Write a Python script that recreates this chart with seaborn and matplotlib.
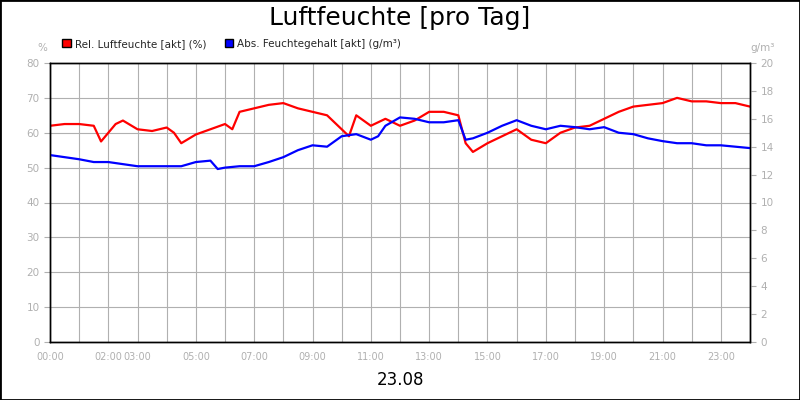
import matplotlib
matplotlib.use('Agg')
import matplotlib.pyplot as plt
import matplotlib.patches as mpatches
import seaborn as sns
import numpy as np

# hours of day
rel_hours = [0, 0.5, 1, 1.5, 1.75, 2, 2.25, 2.5, 3, 3.5, 4, 4.25, 4.5, 5, 5.5, 6, 6.25, 6.5, 7, 7.5,
             8, 8.5, 9, 9.5, 10, 10.25, 10.5, 11, 11.5, 12, 12.5, 13, 13.5, 14, 14.25, 14.5, 15, 15.5,
             16, 16.5, 17, 17.5, 18, 18.5, 19, 19.5, 20, 20.5, 21, 21.5, 22, 22.5, 23, 23.5, 24]
rel_hum = [62, 62.5, 62.5, 62, 57.5, 60, 62.5, 63.5, 61, 60.5, 61.5, 60, 57, 59.5, 61, 62.5, 61, 66, 67, 68,
           68.5, 67, 66, 65, 61, 59, 65, 62, 64, 62, 63.5, 66, 66, 65, 57, 54.5, 57, 59,
           61, 58, 57, 60, 61.5, 62, 64, 66, 67.5, 68, 68.5, 70, 69, 69, 68.5, 68.5, 67.5]

abs_hours = [0, 1, 1.5, 2, 2.5, 3, 4, 4.5, 5, 5.5, 5.75, 6, 6.5, 7, 7.5, 8, 8.5, 9, 9.5, 10, 10.5, 11,
             11.25, 11.5, 12, 12.5, 13, 13.5, 14, 14.25, 14.5, 15, 15.5, 16, 16.5, 17, 17.5, 18, 18.5,
             19, 19.5, 20, 20.5, 21, 21.5, 22, 22.5, 23, 23.5, 24]
abs_hum = [13.4, 13.1, 12.9, 12.9, 12.75, 12.6, 12.6, 12.6, 12.9, 13.0, 12.4, 12.5, 12.6, 12.6, 12.9,
           13.25, 13.75, 14.1, 14.0, 14.75, 14.9, 14.5, 14.75, 15.5, 16.1, 16.0, 15.75, 15.75, 15.9,
           14.5, 14.6, 15.0, 15.5, 15.9, 15.5, 15.25, 15.5, 15.4, 15.25, 15.4, 15.0, 14.9, 14.6, 14.4,
           14.25, 14.25, 14.1, 14.1, 14.0, 13.9]

tick_hours = [0, 2, 3, 5, 7, 9, 11, 13, 15, 17, 19, 21, 23]
tick_labels = ['00:00', '02:00', '03:00', '05:00', '07:00', '09:00', '11:00',
               '13:00', '15:00', '17:00', '19:00', '21:00', '23:00']

sns.set_style('white')
plt.rcParams['font.family'] = ['DejaVu Sans']
grey = '#b0b0b0'

fig = plt.figure(figsize=(8, 4), dpi=100)
ax = fig.add_axes([50 / 800, 58 / 400, 700 / 800, 279 / 400])
ax2 = ax.twinx()

sns.lineplot(x=rel_hours, y=rel_hum, ax=ax, color='#ff0000', lw=1.6)
sns.lineplot(x=abs_hours, y=abs_hum, ax=ax2, color='#0000ff', lw=1.6)

ax.set_xlim(0, 24)
ax.set_ylim(0, 80)
ax2.set_ylim(0, 20)
ax.set_yticks(range(0, 81, 10))
ax2.set_yticks(range(0, 21, 2))
lab_map = dict(zip(tick_hours, tick_labels))
ax.set_xticks(range(0, 25))
ax.set_xticklabels([lab_map.get(h, '') for h in range(0, 25)])
ax.grid(True, color=grey, lw=0.8)
ax.tick_params(axis='x', length=4, color=grey, labelsize=7, labelcolor=grey, pad=3)
ax.tick_params(axis='y', length=4, color=grey, labelsize=7.5, labelcolor=grey)
ax2.tick_params(axis='y', length=4, color=grey, labelsize=7.5, labelcolor=grey)
for a in (ax, ax2):
    for s in a.spines.values():
        s.set_color('black')
        s.set_linewidth(1)

fig.text(0.5, 0.955, 'Luftfeuchte [pro Tag]', ha='center', va='center', fontsize=18, color='black')
fig.text(0.5, 0.05, '23.08', ha='center', va='center', fontsize=12, color='black')
fig.text(42 / 800, 1 - 48 / 400, '%', ha='center', va='center', fontsize=7.5, color=grey)
fig.text(763 / 800, 1 - 48 / 400, 'g/m³', ha='center', va='center', fontsize=7.5, color=grey)

handles = [mpatches.Patch(facecolor='#ff0000', edgecolor='black', label='Rel. Luftfeuchte [akt] (%)'),
           mpatches.Patch(facecolor='#0000ff', edgecolor='black', label='Abs. Feuchtegehalt [akt] (g/m³)')]
fig.legend(handles=handles, loc='center left', bbox_to_anchor=(57 / 800, 1 - 44 / 400), ncol=2,
           frameon=False, fontsize=7.5, handlelength=0.8, handleheight=0.8, handletextpad=0.4,
           columnspacing=1.8, borderpad=0)

fig.patches.append(mpatches.Rectangle((0, 0), 1, 1, transform=fig.transFigure, fill=False,
                                      edgecolor='black', lw=2))
fig.savefig('out.png', dpi=100)
